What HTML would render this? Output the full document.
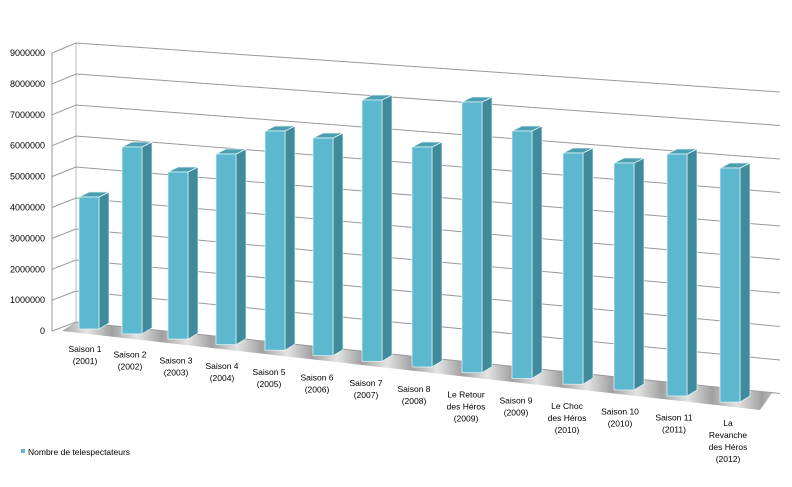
<!DOCTYPE html>
<html><head><meta charset="utf-8"><style>
html,body{margin:0;padding:0;background:#fff;}
svg{display:block;font-family:"Liberation Sans",Arial,sans-serif;}
</style></head><body>
<svg id="c" width="792" height="487" viewBox="0 0 792 487" xmlns="http://www.w3.org/2000/svg">
<defs>
<linearGradient id="fl" gradientUnits="userSpaceOnUse" x1="62" y1="0" x2="112" y2="0" spreadMethod="repeat">
<stop offset="0" stop-color="#a0a0a0"/><stop offset="0.5" stop-color="#e4e4e4"/><stop offset="1" stop-color="#a0a0a0"/>
</linearGradient>
</defs>
<g id="g"></g>
</svg>
<script>
var g=document.getElementById('g'),s='';
s+='<polygon points="62,331 76,322 772,393 760,410" fill="url(#fl)"/>';
s+='<line x1="52" y1="53" x2="52" y2="331" stroke="#999" stroke-width="1"/>';
s+='<line x1="76" y1="43" x2="76" y2="322" stroke="#bbb" stroke-width="1"/>';
var labs=['9000000','8000000','7000000','6000000','5000000','4000000','3000000','2000000','1000000','0'];
for(var k=0;k<10;k++){
 var yl=53+30.9*k, yb=43+31*k, yr=92+33.5*k;
 s+='<polyline points="52,'+yl.toFixed(1)+' 76,'+yb.toFixed(1)+' 780,'+yr.toFixed(1)+'" fill="none" stroke="#999" stroke-width="1"/>';
 s+='<text x="45" y="'+(yl+3).toFixed(1)+'" font-size="9" text-anchor="end" fill="#000">'+labs[k]+'</text>';
}
var bx=[79,122,168,216,265,313,362,412,462,512,563,614,667,720];
var tops=[197,147,172,154,131,138,100,147,102,131,153,163,154,168];
for(var i=0;i<14;i++){
 var x=bx[i],w=20,t=tops[i],b=329+(x-79)*0.114,d=10,u=5;
 s+='<polygon points="'+(x+w)+','+t+' '+(x+w+d)+','+(t-u)+' '+(x+w+d)+','+(b-u-1)+' '+(x+w)+','+b+'" fill="#3f8b9b" stroke="#e8f6f8" stroke-width="0.7"/>';
 s+='<polygon points="'+x+','+t+' '+(x+d)+','+(t-u)+' '+(x+w+d)+','+(t-u)+' '+(x+w)+','+t+'" fill="#4a9fb1" stroke="#e8f6f8" stroke-width="0.7"/>';
 s+='<rect x="'+x+'" y="'+t+'" width="'+w+'" height="'+(b-t).toFixed(1)+'" fill="#5bb8cf" stroke="#e8f6f8" stroke-width="0.7"/>';
}
var cl=[['Saison 1','(2001)'],['Saison 2','(2002)'],['Saison 3','(2003)'],['Saison 4','(2004)'],['Saison 5','(2005)'],['Saison 6','(2006)'],['Saison 7','(2007)'],['Saison 8','(2008)'],['Le Retour','des Héros','(2009)'],['Saison 9','(2009)'],['Le Choc','des Héros','(2010)'],['Saison 10','(2010)'],['Saison 11','(2011)'],['La','Revanche','des Héros','(2012)']];
var cx=[85,130,176,222,269,317,366,414,466,516,567,620,674,728];
for(var i=0;i<14;i++){
 var y0=352+5.7*i;
 for(var j=0;j<cl[i].length;j++){
  s+='<text x="'+cx[i]+'" y="'+(y0+j*12).toFixed(1)+'" font-size="8.5" text-anchor="middle" fill="#000">'+cl[i][j]+'</text>';
 }
}
s+='<rect x="21" y="449" width="4" height="4" fill="#5bb8cf"/>';
s+='<text x="28" y="455" font-size="8.5" fill="#000">Nombre de telespectateurs</text>';
g.innerHTML=s;
</script>
</body></html>
